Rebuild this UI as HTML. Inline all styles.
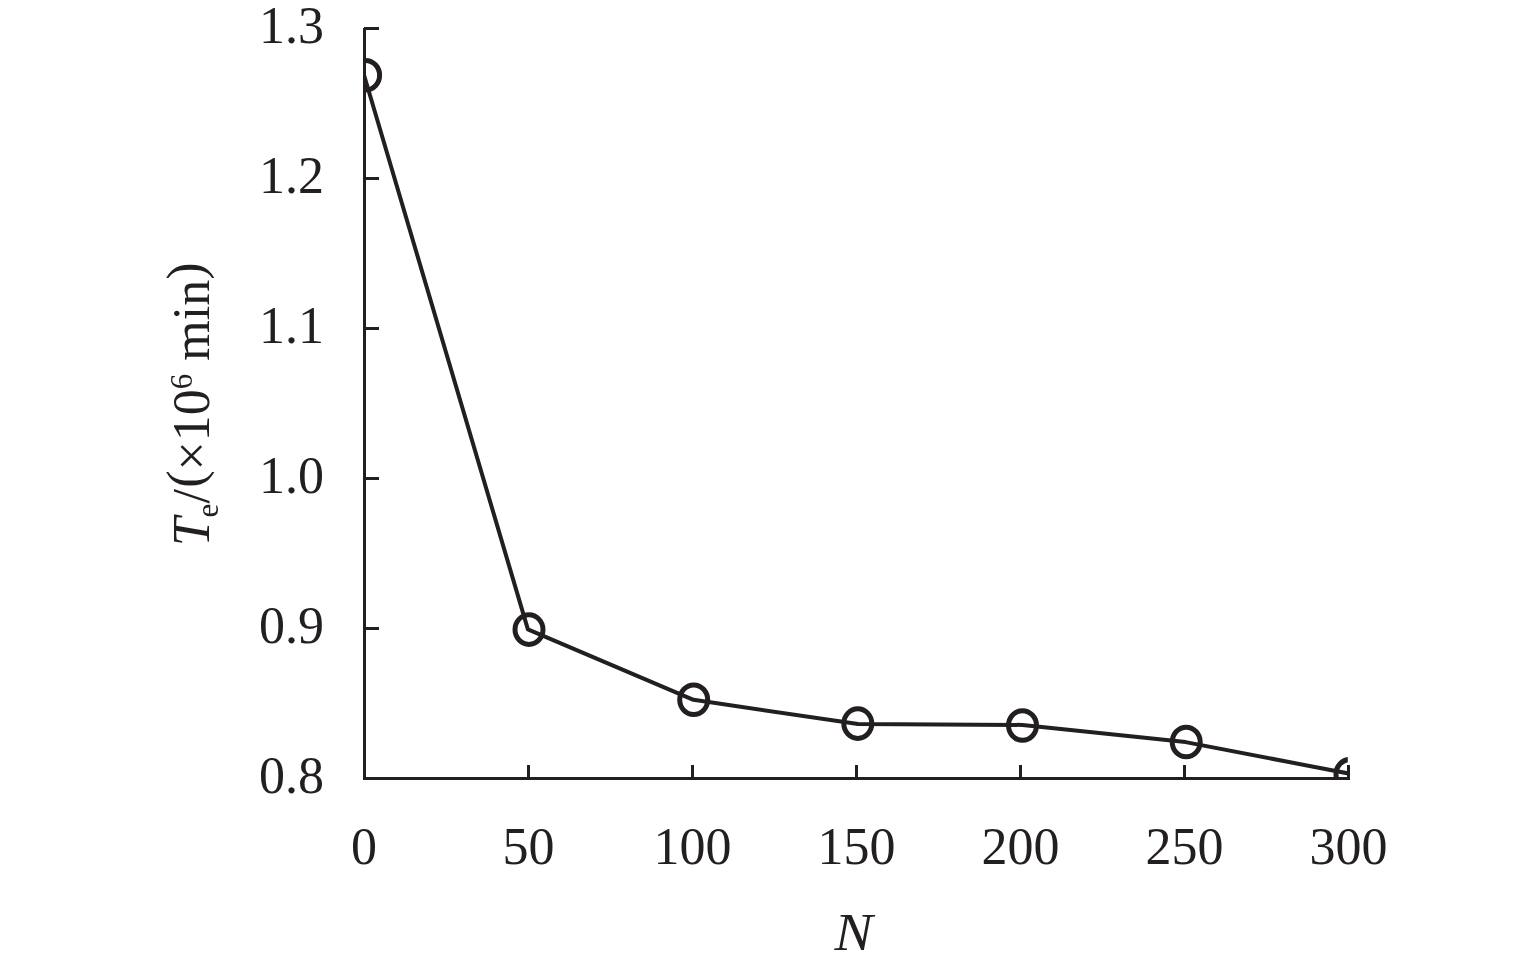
<!DOCTYPE html>
<html lang="en">
<head>
<meta charset="utf-8">
<title>Te versus N</title>
<style>
html,body{margin:0;padding:0;background:#fff;}
body{width:1535px;height:967px;overflow:hidden;}
svg{display:block;}
text{font-family:"Liberation Serif","Times New Roman",Times,serif;fill:#231f20;}
.n{font-size:52px;}
.i{font-style:italic;}
</style>
</head>
<body>
<svg width="1535" height="967" viewBox="0 0 1535 967">
<rect width="1535" height="967" fill="#ffffff"/>
<defs>
<clipPath id="plot"><rect x="364.5" y="20" width="983.3" height="757.5"/></clipPath>
</defs>
<!-- axes -->
<g stroke="#231f20" stroke-width="3" fill="none" stroke-linecap="butt">
<path d="M364.5 28 V780"/>
<path d="M363 778.5 H1350"/>
<!-- y ticks -->
<path d="M364 28.5 H379 M364 178.5 H379 M364 328.5 H379 M364 478.5 H379 M364 628.5 H379"/>
<!-- x ticks -->
<path d="M528.5 765 V778 M692.5 765 V778 M856.5 765 V778 M1020.5 765 V778 M1184.5 765 V778 M1348.5 765 V780"/>
</g>
<!-- data -->
<g clip-path="url(#plot)" stroke="#231f20" fill="none">
<polyline stroke-width="4" stroke-linejoin="round" points="364,75 527.9,629.4 693.5,699.8 858,724.1 1022.5,724.9 1185.6,742.1 1349,773.6"/>
<g stroke-width="5">
<ellipse cx="365.6" cy="75.3" rx="14" ry="14.8"/>
<ellipse cx="529" cy="629.6" rx="14" ry="14.8"/>
<ellipse cx="693.7" cy="699.7" rx="14" ry="14.8"/>
<ellipse cx="857.8" cy="723.6" rx="14" ry="14.8"/>
<ellipse cx="1022.5" cy="725.5" rx="14" ry="14.8"/>
<ellipse cx="1186.2" cy="742" rx="14" ry="14.8"/>
<ellipse cx="1350" cy="774.3" rx="14" ry="14.8"/>
</g>
</g>
<!-- y tick labels -->
<g class="n" text-anchor="end">
<text x="324" y="42.7">1.3</text>
<text x="324" y="192.7">1.2</text>
<text x="324" y="342.7">1.1</text>
<text x="324" y="492.7">1.0</text>
<text x="324" y="642.7">0.9</text>
<text x="324" y="792.7">0.8</text>
</g>
<!-- x tick labels -->
<g class="n" text-anchor="middle">
<text x="364" y="864">0</text>
<text x="528.5" y="864">50</text>
<text x="692.5" y="864">100</text>
<text x="856.5" y="864">150</text>
<text x="1020.5" y="864">200</text>
<text x="1184.5" y="864">250</text>
<text x="1348.5" y="864">300</text>
</g>
<!-- x axis title -->
<text class="n i" transform="translate(853.6 949.7) scale(1.1 1)" x="0" y="0" text-anchor="middle">N</text>
<!-- y axis title -->
<g transform="translate(208.8 546.3) rotate(-90)">
<text class="n" x="0" y="0"><tspan class="i">T</tspan><tspan font-size="31" dy="9">e</tspan><tspan dy="-9">/</tspan><tspan dy="-6" dx="1.3">(</tspan><tspan dy="6">×10</tspan><tspan font-size="31" dy="-17">6</tspan><tspan dy="17"> min</tspan><tspan dy="-6">)</tspan></text>
</g>
</svg>
</body>
</html>
